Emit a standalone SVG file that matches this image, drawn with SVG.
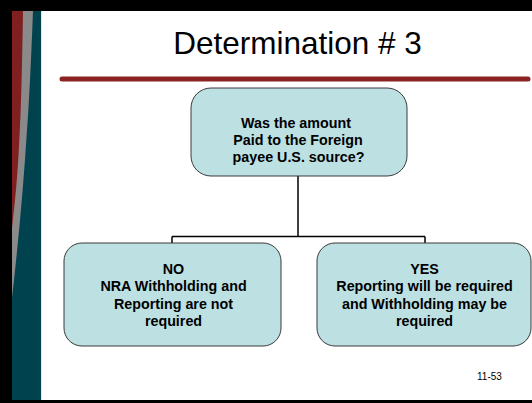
<svg xmlns="http://www.w3.org/2000/svg" width="532" height="403" viewBox="0 0 532 403">
<defs>
<style>
.box{fill:#BDE0E3;stroke:#3a3a3a;stroke-width:1}
.t{font-family:"Liberation Sans",Arial,sans-serif;font-weight:bold;font-size:14.3px;fill:#000;text-anchor:middle}
.conn{fill:none;stroke:#000;stroke-width:1.5}
</style>
</defs>
<rect x="0" y="0" width="532" height="403" fill="#fff"/>
<!-- frame -->
<rect x="0" y="0" width="532" height="11" fill="#000"/>
<rect x="0" y="0" width="12" height="403" fill="#000"/>
<rect x="0" y="400" width="532" height="3" fill="#000"/>
<!-- left stripes -->
<rect x="12" y="11" width="29" height="389" fill="#00434F"/>
<path d="M12,11 L33,11 Q30,90 27,130 Q22,210 12,298 Z" fill="#8A8A8A"/>
<path d="M12,11 L23,11 Q22,70 21,100 Q19,160 15,200 L12,228 Z" fill="#7F1F1F"/>
<rect x="41" y="11" width="1" height="389" fill="#dfe8ea"/>
<!-- title -->
<text x="297.5" y="54" style="font-family:'Liberation Sans',Arial,sans-serif;font-size:31.5px;fill:#000" text-anchor="middle">Determination # 3</text>
<line x1="62" y1="79" x2="528" y2="79" stroke="#8B2323" stroke-width="5" stroke-linecap="round"/>
<!-- connectors -->
<g id="connectors">
<path class="conn" d="M298,176 V236.5 M172,236.5 H425 M172,236.5 V243 M425,236.5 V243"/>
</g>
<g id="question">
<rect class="box" x="191" y="88" width="216" height="88" rx="20" ry="20"/>
<text class="t" x="296" y="127.5">Was the amount</text>
<text class="t" x="298" y="144.5">Paid to the Foreign</text>
<text class="t" x="298.5" y="161.5">payee U.S. source?</text>
</g>
<g id="no">
<rect class="box" x="64" y="243" width="217" height="103" rx="18" ry="18"/>
<text class="t" x="173.5" y="273.5">NO</text>
<text class="t" x="173.5" y="291">NRA Withholding and</text>
<text class="t" x="173.5" y="308.5">Reporting are not</text>
<text class="t" x="173.5" y="326">required</text>
</g>
<g id="yes">
<rect class="box" x="317" y="243" width="214" height="103" rx="18" ry="18"/>
<text class="t" x="424.5" y="273.5">YES</text>
<text class="t" x="424.5" y="291">Reporting will be required</text>
<text class="t" x="424.5" y="308.5">and Withholding may be</text>
<text class="t" x="424.5" y="326">required</text>
</g>
<text x="477" y="380" style="font-family:'Liberation Sans',Arial,sans-serif;font-size:10px;fill:#000">11-53</text>
</svg>
